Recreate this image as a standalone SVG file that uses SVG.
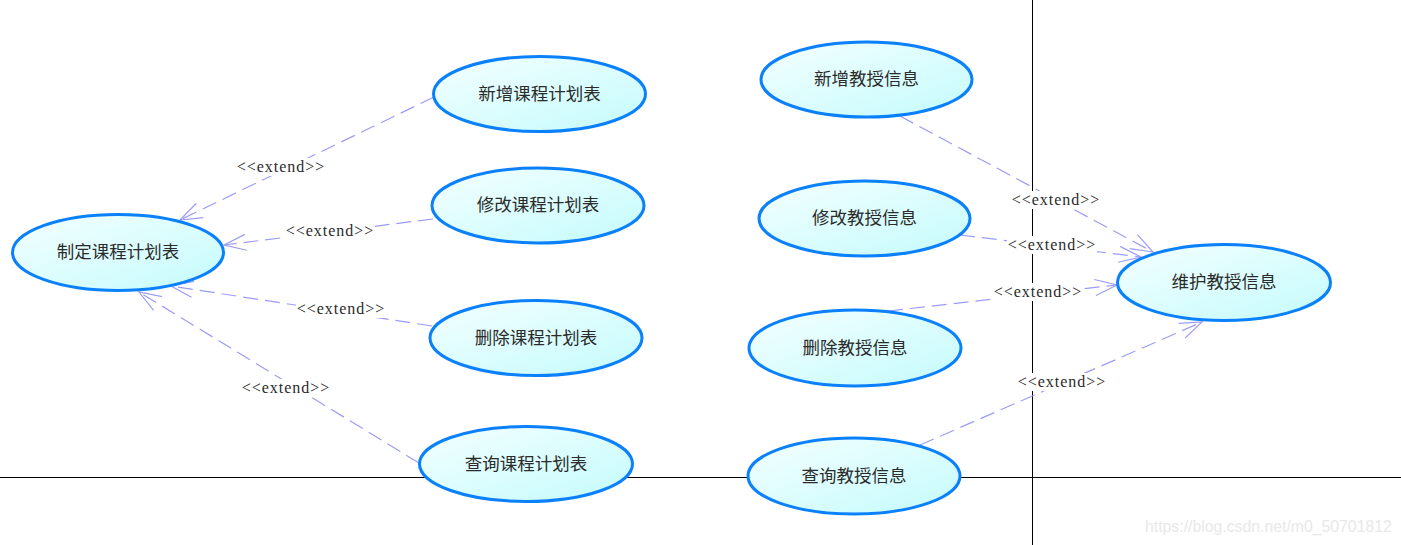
<svg xmlns="http://www.w3.org/2000/svg" width="1401" height="545" viewBox="0 0 1401 545">
<defs>
<linearGradient id="uc" x1="0" y1="0" x2="1" y2="1">
<stop offset="0" stop-color="#f4ffff"/>
<stop offset="1" stop-color="#c4fbfc"/>
</linearGradient>
<marker id="open" viewBox="-24 -10 26 20" refX="0" refY="0" markerWidth="26" markerHeight="20" markerUnits="userSpaceOnUse" orient="auto">
<path d="M -22 -8 L 0 0 L -22 8" fill="none" stroke="#9c9cf6" stroke-width="1.2"/>
</marker>
<style>
.frame{stroke:#000;stroke-width:1;fill:none}
.uc ellipse{fill:url(#uc);stroke:#0a80fa;stroke-width:3}
.uc text{font-family:"Noto Sans CJK SC","Noto Sans",sans-serif;font-size:17.5px;fill:#2b2b2b;text-anchor:middle;dominant-baseline:central}
.conn line{stroke:#9c9cf6;stroke-width:1.2;stroke-dasharray:15 7;fill:none;marker-end:url(#open)}
.lbl rect{fill:#fff}
.lbl text{font-family:"Liberation Serif",serif;font-size:16px;fill:#2b2b2b;text-anchor:middle;letter-spacing:1px}
.wm{font-family:"Liberation Sans",Arial,sans-serif;font-size:15.8px;fill:#e8e8e8}
</style>
</defs>
<rect width="1401" height="545" fill="#fff"/>
<g id="frame">
<line class="frame" x1="0" y1="477.5" x2="1401" y2="477.5"/>
<line class="frame" x1="1032.5" y1="0" x2="1032.5" y2="545"/>
</g>
<g id="connectors" class="conn">
<line x1="434" y1="97" x2="180" y2="220"/>
<line x1="433" y1="219" x2="224" y2="245"/>
<line x1="432" y1="326" x2="171" y2="286"/>
<line x1="419" y1="463" x2="139" y2="292"/>
<line x1="900" y1="116" x2="1153" y2="252"/>
<line x1="960" y1="235" x2="1141" y2="257"/>
<line x1="888" y1="311" x2="1117" y2="285"/>
<line x1="920" y1="445" x2="1202" y2="322"/>
</g>
<g id="labels" class="lbl">
<g><rect x="236" y="158" width="90" height="18"/><text x="281" y="172">&lt;&lt;extend&gt;&gt;</text></g>
<g><rect x="285" y="222" width="90" height="18"/><text x="330" y="236">&lt;&lt;extend&gt;&gt;</text></g>
<g><rect x="296" y="300" width="90" height="18"/><text x="341" y="314">&lt;&lt;extend&gt;&gt;</text></g>
<g><rect x="241" y="379" width="90" height="18"/><text x="286" y="393">&lt;&lt;extend&gt;&gt;</text></g>
<g><rect x="1011" y="191" width="90" height="18"/><text x="1056" y="205">&lt;&lt;extend&gt;&gt;</text></g>
<g><rect x="1007" y="236" width="90" height="18"/><text x="1052" y="250">&lt;&lt;extend&gt;&gt;</text></g>
<g><rect x="993" y="283" width="90" height="18"/><text x="1038" y="297">&lt;&lt;extend&gt;&gt;</text></g>
<g><rect x="1017" y="373" width="90" height="18"/><text x="1062" y="387">&lt;&lt;extend&gt;&gt;</text></g>
</g>
<g id="n1" class="uc"><ellipse cx="118" cy="252.5" rx="105.5" ry="38"/><text x="118" y="250.5">制定课程计划表</text></g>
<g id="n2" class="uc"><ellipse cx="539.5" cy="94" rx="106" ry="37.5"/><text x="539.5" y="92">新增课程计划表</text></g>
<g id="n3" class="uc"><ellipse cx="538" cy="205.5" rx="106" ry="37.5"/><text x="538" y="203.5">修改课程计划表</text></g>
<g id="n4" class="uc"><ellipse cx="536" cy="338" rx="106" ry="37.5"/><text x="536" y="336">删除课程计划表</text></g>
<g id="n5" class="uc"><ellipse cx="526" cy="464" rx="106.5" ry="37.5"/><text x="526" y="462">查询课程计划表</text></g>
<g id="n6" class="uc"><ellipse cx="866.5" cy="79.5" rx="105.5" ry="37.5"/><text x="866.5" y="77.5">新增教授信息</text></g>
<g id="n7" class="uc"><ellipse cx="864.5" cy="218.5" rx="105.5" ry="37.5"/><text x="864.5" y="216.5">修改教授信息</text></g>
<g id="n8" class="uc"><ellipse cx="855" cy="348" rx="106" ry="38"/><text x="855" y="346">删除教授信息</text></g>
<g id="n9" class="uc"><ellipse cx="854" cy="476" rx="106" ry="38"/><text x="854" y="474">查询教授信息</text></g>
<g id="n10" class="uc"><ellipse cx="1224" cy="282.5" rx="106.5" ry="38"/><text x="1224" y="280.5">维护教授信息</text></g>
<text class="wm" x="1145" y="532">https://blog.csdn.net/m0_50701812</text>
</svg>
